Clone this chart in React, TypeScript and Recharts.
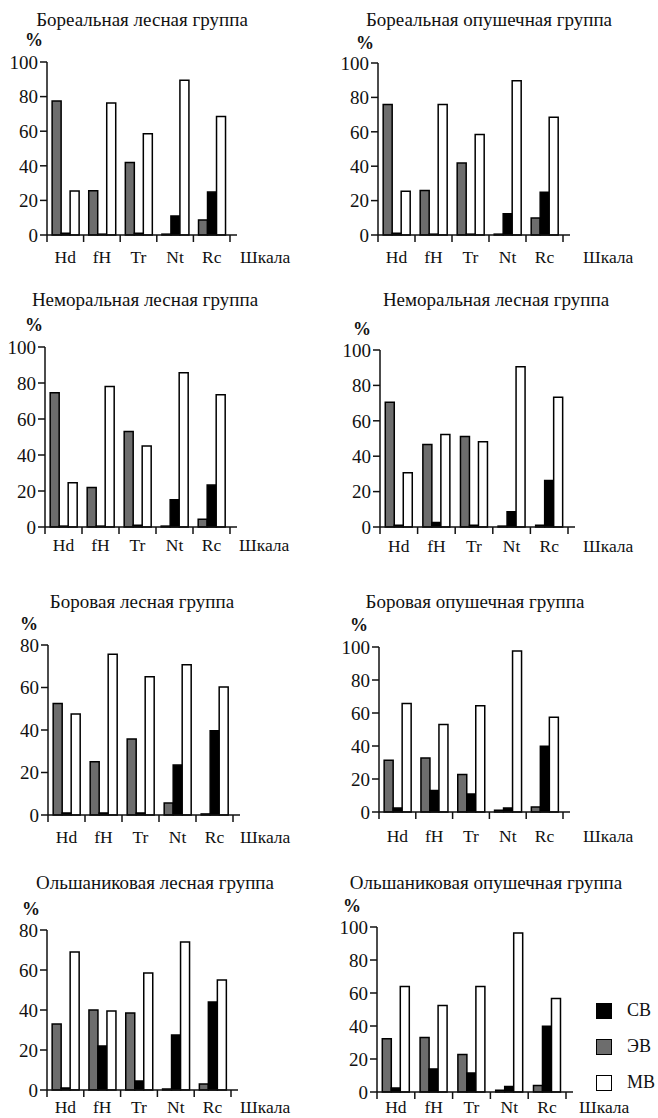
import { Bar, BarChart, XAxis, YAxis } from 'recharts'

const categories = ['Hd', 'fH', 'Tr', 'Nt', 'Rc']
const ticks100 = [0, 20, 40, 60, 80, 100]
const ticks80 = [0, 20, 40, 60, 80]

// ЭВ (серые), СВ (чёрные), МВ (белые), %
const borealForestEV = [77.5, 25.6, 41.9, 0.5, 8.7]
const borealForestSV = [1, 0.5, 1, 11, 24.8]
const borealForestMV = [25.4, 76.3, 58.5, 89.4, 68.5]

const borealEdgeEV = [75.8, 25.9, 41.8, 0.5, 9.9]
const borealEdgeSV = [1, 0.5, 0.5, 12.4, 24.8]
const borealEdgeMV = [25.5, 75.8, 58.4, 89.7, 68.5]

const nemoralForestEV = [74.6, 22, 53, 0.5, 4.3]
const nemoralForestSV = [0.5, 0.5, 1, 15.2, 23.3]
const nemoralForestMV = [24.6, 78, 45, 85.7, 73.5]

const nemoralForest2EV = [70.5, 46.6, 51.1, 0.5, 1]
const nemoralForest2SV = [1, 2.6, 1, 8.6, 26.3]
const nemoralForest2MV = [30.6, 52.3, 48.1, 90.6, 73.3]

const pineForestEV = [52.5, 25.1, 35.8, 5.6, 0.5]
const pineForestSV = [1, 1, 1, 23.5, 39.7]
const pineForestMV = [47.5, 75.6, 65.1, 70.7, 60.2]

const pineEdgeEV = [31.3, 32.7, 22.8, 1, 3]
const pineEdgeSV = [2.4, 13.1, 10.9, 2.4, 39.8]
const pineEdgeMV = [65.7, 53.1, 64.4, 97.6, 57.4]

const alderForestEV = [33, 40, 38.5, 0.5, 3]
const alderForestSV = [1, 22, 4.5, 27.5, 44]
const alderForestMV = [69, 39.5, 58.5, 74, 55]

const alderEdgeEV = [32.3, 33, 22.8, 1, 4]
const alderEdgeSV = [2.4, 14, 11.5, 3.4, 39.8]
const alderEdgeMV = [64, 52.5, 64, 96.4, 56.6]

const FONT = '"Liberation Serif"'
const GRAY = '#6d6d6d'
const INK = '#111'

interface Layout {
  px: number
  titleX: number
  titleY: number
  pctX: number
  pctY: number
  axisX: number
  axisEnd: number
  top: number
  bottom: number
  scaleOffset: number
  labelBase: number
}

interface PanelProps {
  title: string
  ev: number[]
  sv: number[]
  mv: number[]
  yTicks: number[]
  layout: Layout
}

const MT = 12
const PAD_R = 7
const TICK = 7

function CatTick(props: any) {
  const { x, y, payload, index, half, gap } = props
  const ay = y - gap
  return (
    <g>
      <line x1={x - half} x2={x - half} y1={ay} y2={ay + TICK} stroke={INK} strokeWidth={1.5} />
      {index === categories.length - 1 && (
        <line x1={x + half} x2={x + half} y1={ay} y2={ay + TICK} stroke={INK} strokeWidth={1.5} />
      )}
      <text x={x} y={y} dy="0.71em" textAnchor="middle" fill={INK} fontSize={17.5} fontFamily={FONT}>
        {payload.value}
      </text>
    </g>
  )
}

function Panel({ title, ev, sv, mv, yTicks, layout: l }: PanelProps) {
  const data = categories.map((c, i) => ({ name: c, ev: ev[i], sv: sv[i], mv: mv[i] }))
  const half = (l.axisEnd - PAD_R - l.axisX) / categories.length / 2
  const xh = 2 * (l.labelBase - 6)
  const gap = l.labelBase - 12
  const height = l.bottom - l.top + MT + xh + 2
  return (
    <>
      <div
        style={{
          position: 'absolute',
          left: l.titleX,
          top: l.titleY - 11,
          transform: 'translateX(-50%)',
          whiteSpace: 'nowrap',
          fontSize: 19,
          lineHeight: '22px',
          fontFamily: FONT,
          color: INK,
        }}
      >
        {title}
      </div>
      <div
        style={{
          position: 'absolute',
          left: l.pctX,
          top: l.pctY - 10,
          fontSize: 18,
          lineHeight: '18px',
          fontWeight: 'bold',
          fontFamily: FONT,
          color: INK,
        }}
      >
        %
      </div>
      <div style={{ position: 'absolute', left: l.px, top: l.top - MT, fontFamily: FONT }}>
        <BarChart
          width={330}
          height={height}
          data={data}
          barGap={0}
          barCategoryGap="14%"
          margin={{ top: MT, right: l.px + 330 - l.axisEnd, left: l.axisX - l.px - 40, bottom: 2 }}
        >
          <XAxis
            dataKey="name"
            height={xh}
            padding={{ left: 0, right: PAD_R }}
            axisLine={{ stroke: INK, strokeWidth: 1.5 }}
            tickLine={false}
            tickSize={TICK}
            tickMargin={gap - TICK}
            interval={0}
            tick={(p: any) => <CatTick {...p} half={half} gap={gap} />}
            label={{
              value: 'Шкала',
              position: 'right',
              offset: l.scaleOffset,
              fill: INK,
              fontSize: 17.5,
              fontFamily: FONT,
            }}
          />
          <YAxis
            width={40}
            domain={[0, yTicks[yTicks.length - 1]]}
            ticks={yTicks}
            interval={0}
            axisLine={{ stroke: INK, strokeWidth: 1.5 }}
            tickLine={{ stroke: INK, strokeWidth: 1.5 }}
            tickSize={TICK}
            tickMargin={2}
            tick={{ fill: INK, fontSize: 19, fontFamily: FONT }}
          />
          <Bar dataKey="ev" name="ЭВ" fill={GRAY} stroke="#000" strokeWidth={1.5} isAnimationActive={false} />
          <Bar dataKey="sv" name="СВ" fill="#000" stroke="#000" strokeWidth={1.5} isAnimationActive={false} />
          <Bar dataKey="mv" name="МВ" fill="#fff" stroke="#000" strokeWidth={1.5} isAnimationActive={false} />
        </BarChart>
      </div>
    </>
  )
}

const legendItems = [
  { name: 'СВ', fill: '#000' },
  { name: 'ЭВ', fill: GRAY },
  { name: 'МВ', fill: '#fff' },
]

export default function App() {
  return (
    <div style={{ position: 'absolute', left: 0, top: 0, width: 658, height: 1118, background: '#fff', overflow: 'hidden', fontFamily: FONT }}>
      <style>{`.recharts-wrapper text, .recharts-text { font-family: "Liberation Serif"; }`}</style>
      <Panel
        title="Бореальная лесная группа"
        ev={borealForestEV}
        sv={borealForestSV}
        mv={borealForestMV}
        yTicks={ticks100}
        layout={{ px: 0, titleX: 142, titleY: 20, pctX: 25, pctY: 41, axisX: 47, axisEnd: 237, top: 62, bottom: 235, scaleOffset: 3, labelBase: 28 }}
      />
      <Panel
        title="Бореальная опушечная группа"
        ev={borealEdgeEV}
        sv={borealEdgeSV}
        mv={borealEdgeMV}
        yTicks={ticks100}
        layout={{ px: 328, titleX: 489, titleY: 20, pctX: 356, pctY: 44, axisX: 378, axisEnd: 570, top: 63, bottom: 235, scaleOffset: 13, labelBase: 28 }}
      />
      <Panel
        title="Неморальная лесная группа"
        ev={nemoralForestEV}
        sv={nemoralForestSV}
        mv={nemoralForestMV}
        yTicks={ticks100}
        layout={{ px: 0, titleX: 145, titleY: 300, pctX: 25, pctY: 326, axisX: 45, axisEnd: 237, top: 347, bottom: 527, scaleOffset: 2, labelBase: 24 }}
      />
      <Panel
        title="Неморальная лесная группа"
        ev={nemoralForest2EV}
        sv={nemoralForest2SV}
        mv={nemoralForest2MV}
        yTicks={ticks100}
        layout={{ px: 328, titleX: 496, titleY: 300, pctX: 353, pctY: 330, axisX: 380, axisEnd: 575, top: 350, bottom: 527, scaleOffset: 8, labelBase: 25 }}
      />
      <Panel
        title="Боровая лесная группа"
        ev={pineForestEV}
        sv={pineForestSV}
        mv={pineForestMV}
        yTicks={ticks80}
        layout={{ px: 0, titleX: 142, titleY: 602, pctX: 20, pctY: 625, axisX: 48, axisEnd: 240, top: 645, bottom: 815, scaleOffset: 0, labelBase: 28 }}
      />
      <Panel
        title="Боровая опушечная группа"
        ev={pineEdgeEV}
        sv={pineEdgeSV}
        mv={pineEdgeMV}
        yTicks={ticks100}
        layout={{ px: 328, titleX: 475, titleY: 602, pctX: 350, pctY: 626, axisX: 379, axisEnd: 570, top: 647, bottom: 812, scaleOffset: 13, labelBase: 30 }}
      />
      <Panel
        title="Ольшаниковая лесная группа"
        ev={alderForestEV}
        sv={alderForestSV}
        mv={alderForestMV}
        yTicks={ticks80}
        layout={{ px: 0, titleX: 155, titleY: 883, pctX: 22, pctY: 910, axisX: 47, axisEnd: 238, top: 930, bottom: 1090, scaleOffset: 2, labelBase: 23 }}
      />
      <Panel
        title="Ольшаниковая опушечная группа"
        ev={alderEdgeEV}
        sv={alderEdgeSV}
        mv={alderEdgeMV}
        yTicks={ticks100}
        layout={{ px: 328, titleX: 486, titleY: 883, pctX: 343, pctY: 907, axisX: 377, axisEnd: 573, top: 927, bottom: 1092, scaleOffset: 6, labelBase: 21 }}
      />
      {legendItems.map((it, i) => (
        <div key={it.name} style={{ position: 'absolute', left: 596, top: 1002 + i * 36, height: 17, display: 'flex', alignItems: 'center' }}>
          <div style={{ width: 14, height: 14, background: it.fill, border: '1.5px solid #000' }} />
          <span style={{ marginLeft: 15, fontSize: 18, fontFamily: FONT, color: INK, lineHeight: '17px' }}>{it.name}</span>
        </div>
      ))}
    </div>
  )
}
